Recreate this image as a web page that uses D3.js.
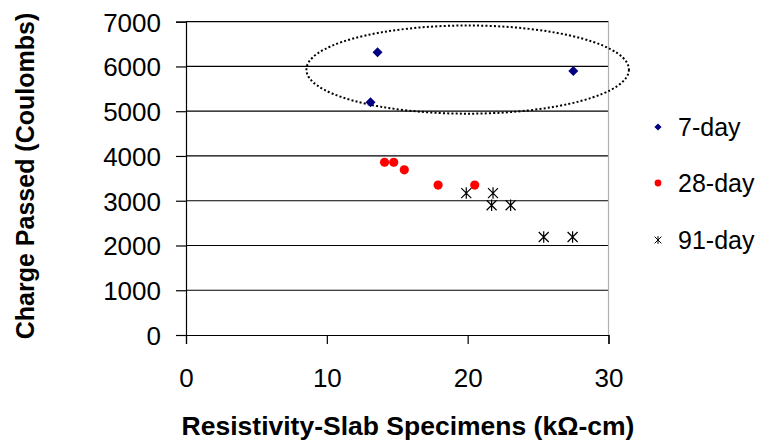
<!DOCTYPE html>
<html>
<head>
<meta charset="utf-8">
<script src="https://cdn.jsdelivr.net/npm/d3@7/dist/d3.min.js"></script>
<style>
  html, body { margin: 0; padding: 0; background: #fff; }
  svg { display: block; font-family: "Liberation Sans", Arial, sans-serif; }
</style>
</head>
<body>
<svg id="chart" width="764" height="442"></svg>
<script>
// Rapid chloride permeability vs. slab resistivity, by curing age
const day7X = [13.6, 13.1, 27.5];
const day7Y = [6320, 5200, 5900];
const day28X = [14.1, 14.75, 15.5, 17.9, 20.5];
const day28Y = [3860, 3860, 3690, 3350, 3350];
const day91X = [19.9, 21.8, 21.7, 23.05, 25.4, 27.45];
const day91Y = [3170, 3170, 2900, 2900, 2190, 2190];
const seriesNames = ["7-day", "28-day", "91-day"];
const xTicks = [0, 10, 20, 30];
const yTicks = [0, 1000, 2000, 3000, 4000, 5000, 6000, 7000];
// Outlier grouping of the 7-day results (centre and half-axes in data units)
const groupCentre = [20.0, 5930];
const groupRadius = [11.45, 985];

(function () {
const svg = d3.select("#chart");
const plotLeft = 186, plotRight = 608.5, plotTop = 21.7, plotBottom = 335;

const x = d3.scaleLinear().domain([0, 30]).range([plotLeft, plotRight]);
const y = d3.scaleLinear().domain([0, 7000]).range([plotBottom, plotTop]);

// Horizontal gridlines
svg.append("g").selectAll("line").data(yTicks.filter(d => d > 0)).join("line")
  .attr("x1", plotLeft).attr("x2", plotRight)
  .attr("y1", d => y(d)).attr("y2", d => y(d))
  .attr("stroke", "#000").attr("stroke-width", 1.2);

// Right edge of the plot area
svg.append("line")
  .attr("x1", plotRight).attr("x2", plotRight).attr("y1", plotTop).attr("y2", plotBottom)
  .attr("stroke", "#b0b0b0").attr("stroke-width", 1.2);

// Axes
const yAxis = svg.append("g").attr("transform", `translate(${plotLeft},0)`)
  .call(d3.axisLeft(y).tickValues(yTicks).tickSize(10).tickPadding(15).tickFormat(d3.format("d")));
const xAxis = svg.append("g").attr("transform", `translate(0,${plotBottom})`)
  .call(d3.axisBottom(x).tickValues(xTicks).tickSize(9).tickPadding(25).tickFormat(d3.format("d")));
[yAxis, xAxis].forEach(a => {
  a.select(".domain").attr("stroke", "#000").attr("stroke-width", 1.2);
  a.selectAll(".tick line").attr("stroke", "#000").attr("stroke-width", 1.2);
  a.selectAll("text").attr("font-size", 26).attr("fill", "#000")
    .attr("font-family", "Liberation Sans, Arial, sans-serif");
});
yAxis.selectAll("text").attr("dy", "0.36em");
xAxis.selectAll("text").attr("dy", "0.71em");

// Dotted ellipse around the 7-day results
svg.append("ellipse")
  .attr("cx", x(groupCentre[0])).attr("cy", y(groupCentre[1]))
  .attr("rx", x(groupRadius[0]) - x(0)).attr("ry", y(0) - y(groupRadius[1]))
  .attr("fill", "none").attr("stroke", "#000").attr("stroke-width", 2)
  .attr("stroke-dasharray", "2 2.2");

// Marker shapes
const diamond = (s) => `M0,${-s}L${s},0L0,${s}L${-s},0Z`;
const star = (s) => `M${-s},${-s}L${s},${s}M${-s},${s}L${s},${-s}M0,${-s * 1.15}L0,${s * 1.15}`;

const pts7 = day7X.map((v, i) => [v, day7Y[i]]);
const pts28 = day28X.map((v, i) => [v, day28Y[i]]);
const pts91 = day91X.map((v, i) => [v, day91Y[i]]);

svg.append("g").selectAll("path").data(pts7).join("path")
  .attr("transform", d => `translate(${x(d[0])},${y(d[1])})`)
  .attr("d", diamond(5)).attr("fill", "#000080");

svg.append("g").selectAll("circle").data(pts28).join("circle")
  .attr("cx", d => x(d[0])).attr("cy", d => y(d[1])).attr("r", 4.6)
  .attr("fill", "#ff0000");

svg.append("g").selectAll("path").data(pts91).join("path")
  .attr("transform", d => `translate(${x(d[0])},${y(d[1])})`)
  .attr("d", star(5)).attr("stroke", "#000").attr("stroke-width", 1.2).attr("fill", "none");

// Axis titles
svg.append("text")
  .attr("transform", `translate(34,176) rotate(-90)`)
  .attr("text-anchor", "middle").attr("font-weight", "bold").attr("font-size", 25)
  .text("Charge Passed (Coulombs)");
svg.append("text")
  .attr("x", 408).attr("y", 435)
  .attr("text-anchor", "middle").attr("font-weight", "bold").attr("font-size", 26.5)
  .text("Resistivity-Slab Specimens (kΩ-cm)");

// Legend
const legendY = [127, 183, 240];
const legend = svg.append("g");
seriesNames.forEach((name, i) => {
  const g = legend.append("g").attr("transform", `translate(658,${legendY[i]})`);
  if (i === 0) g.append("path").attr("d", diamond(3.6)).attr("fill", "#000080");
  if (i === 1) g.append("circle").attr("r", 3.4).attr("fill", "#ff0000");
  if (i === 2) g.append("path").attr("d", star(3.4)).attr("stroke", "#000").attr("stroke-width", 1);
  g.append("text").attr("x", 20).attr("dy", "0.36em").attr("font-size", 25).text(name);
});
})();
</script>
</body>
</html>
